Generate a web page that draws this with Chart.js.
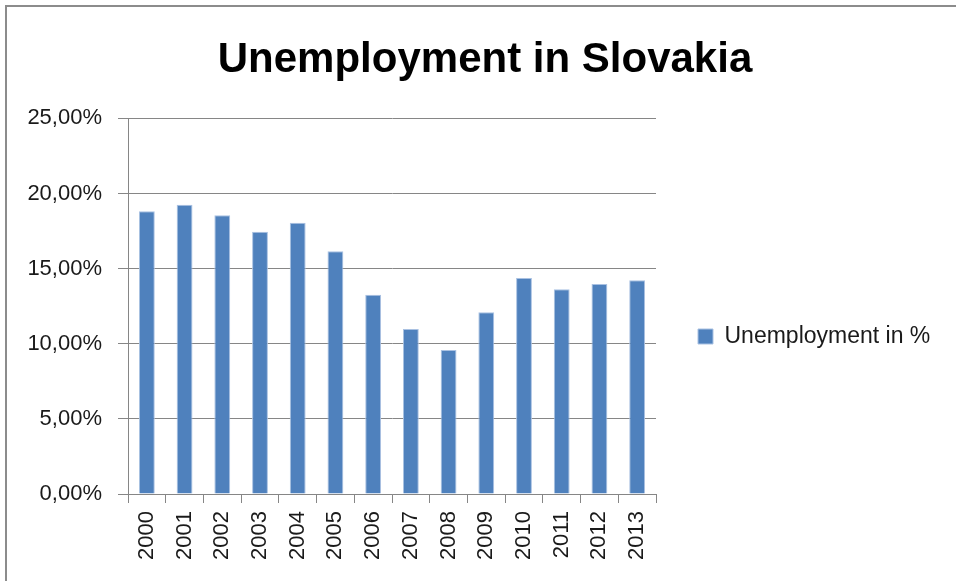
<!DOCTYPE html>
<html>
<head>
<meta charset="utf-8">
<script src="https://cdn.jsdelivr.net/npm/chart.js@4/dist/chart.umd.min.js"></script>
<style>
  html, body { margin: 0; padding: 0; background: #ffffff; }
  #wrap { position: relative; width: 956px; height: 581px; overflow: hidden; }
  #frame { position: absolute; left: 5px; top: 5px; width: 960px; height: 600px;
           border-left: 2px solid #8c8c8c; border-top: 2px solid #8c8c8c; box-sizing: border-box; pointer-events: none; }
  canvas { position: absolute; left: 0; top: 0; }
</style>
</head>
<body>
<div id="wrap">
  <canvas id="c" width="956" height="581"></canvas>
  <div id="frame"></div>
</div>
<script>
const chartTitle = "Unemployment in Slovakia";
const seriesName = "Unemployment in %";
const years = ["2000","2001","2002","2003","2004","2005","2006","2007","2008","2009","2010","2011","2012","2013"];
const unemployment = [18.82, 19.25, 18.55, 17.45, 18.05, 16.15, 13.27, 10.98, 9.58, 12.09, 14.38, 13.62, 13.98, 14.22];
const yTicks = [0, 5, 10, 15, 20, 25];

const FONT = "'Liberation Sans', Arial, sans-serif";

new Chart(document.getElementById('c'), {
  type: 'bar',
  data: {
    labels: years,
    datasets: [{
      label: seriesName,
      data: unemployment,
      backgroundColor: '#4F81BD',
      borderColor: '#a9c1e2',
      borderWidth: 1,
      barPercentage: 0.42,
      categoryPercentage: 1.0
    }]
  },
  options: {
    responsive: false,
    animation: false,
    devicePixelRatio: 1,
    layout: { padding: { left: 20, right: 6, top: 8, bottom: 6 } },
    plugins: {
      title: {
        display: true,
        text: chartTitle,
        color: '#000000',
        font: { family: FONT, size: 42, weight: 'bold' },
        padding: { top: 27, bottom: 33 }
      },
      legend: {
        display: true,
        position: 'right',
        align: 'center',
        maxWidth: 294,
        title: {
          display: true,
          text: ' ',
          font: { family: FONT, size: 10 },
          padding: { top: 78, bottom: 0 }
        },
        labels: {
          color: '#1a1a1a',
          font: { family: FONT, size: 23 },
          boxWidth: 15,
          boxHeight: 15,
          padding: 42,
          generateLabels: (chart) => {
            const items = Chart.defaults.plugins.legend.labels.generateLabels(chart);
            items.forEach(it => { it.text = it.text + '\u00A0\u00A0\u00A0\u00A0\u00A0'; });
            return items;
          }
        }
      },
      tooltip: { enabled: false }
    },
    scales: {
      x: {
        grid: {
          display: true,
          drawOnChartArea: false,
          drawTicks: true,
          tickLength: 9,
          color: '#868686',
          offset: true
        },
        border: { display: true, color: '#868686', width: 1 },
        ticks: {
          color: '#1a1a1a',
          font: { family: FONT, size: 22 },
          minRotation: 90,
          maxRotation: 90,
          padding: 8,
          autoSkip: false
        },
        afterFit: (s) => { s.height = 81; }
      },
      y: {
        min: 0,
        max: 25,
        afterBuildTicks: (s) => { s.ticks = yTicks.map(v => ({ value: v })); },
        grid: {
          color: '#868686',
          lineWidth: 1,
          drawTicks: true,
          tickLength: 10
        },
        border: { display: true, color: '#868686', width: 1 },
        ticks: {
          color: '#1a1a1a',
          font: { family: FONT, size: 22 },
          padding: 16,
          callback: (v) => v.toFixed(2).replace('.', ',') + '%'
        },
        afterFit: (s) => { s.width = 108; }
      }
    }
  }
});
</script>
</body>
</html>
